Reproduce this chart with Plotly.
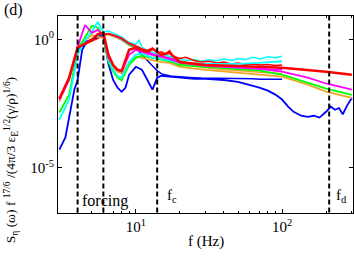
import math
import plotly.graph_objects as go

# ---------------- data ----------------
# smooth / full-range spectra (3-300 Hz)
freq_B = [3, 3.5, 4, 4.5, 5, 5.5, 6, 6.5, 7, 7.5, 8, 9, 10, 11, 12, 13, 14, 15, 17, 20, 30, 50, 70, 100, 150, 200, 300]
red_B = [4.8e-3, 0.032, 0.47, 0.66, 0.95, 1.6, 1.8, 0.25, 0.10, 0.065, 0.059, 0.39, 0.47, 0.39, 0.32, 0.43, 0.32, 0.25, 0.30, 0.13, 0.10, 0.093, 0.085, 0.078, 0.065, 0.055, 0.042]
magenta_B = [4.5e-3, 0.026, 0.51, 3.63, 1.78, 2.34, 1.38, 0.19, 0.10, 0.065, 0.055, 0.25, 0.39, 0.32, 0.28, 0.25, 0.23, 0.21, 0.17, 0.123, 0.093, 0.08, 0.07, 0.055, 0.032, 0.019, 0.011]
green_B = [1.4e-3, 6.9e-3, 0.39, 1.15, 3.39, 2.82, 1.26, 0.13, 0.055, 0.032, 0.025, 0.10, 0.19, 0.23, 0.21, 0.19, 0.17, 0.16, 0.14, 0.10, 0.085, 0.072, 0.06, 0.042, 0.020, 0.012, 0.0069]
orange_B = [3.7e-3, 0.032, 0.56, 0.95, 1.48, 1.26, 1.15, 0.16, 0.078, 0.055, 0.046, 0.13, 0.21, 0.19, 0.17, 0.16, 0.145, 0.13, 0.12, 0.085, 0.065, 0.05, 0.042, 0.035, 0.017, 0.0091, 0.0052]
freq_cyan_B = freq_B[:24]
cyan_B = [7.4e-4, 4.5e-3, 0.25, 0.95, 1.95, 4.79, 1.78, 0.16, 0.065, 0.038, 0.032, 0.13, 0.25, 0.28, 0.23, 0.19, 0.19, 0.17, 0.15, 0.123, 0.11, 0.11, 0.12, 0.14]
freq_blue_B = [3, 3.3, 3.6, 3.8, 4, 4.3, 4.6, 5, 5.5, 6, 6.5, 7, 7.5, 8, 8.5, 9, 10, 11, 12, 13, 14, 15, 17, 20, 25, 30, 40, 50, 60, 70, 80, 90, 100, 110, 120, 135, 150, 165, 180, 200, 215, 230, 245, 260, 280, 300]
blue_B = [5.0e-5, 1.5e-4, 2.1e-3, 0.011, 0.026, 0.39, 0.8, 0.95, 1.26, 1.48, 0.11, 0.026, 0.013, 0.009, 0.013, 0.042, 0.085, 0.065, 0.026, 0.011, 0.032, 0.038, 0.035, 0.032, 0.029, 0.029, 0.026, 0.022, 0.017, 0.013, 0.010, 0.007, 0.0045, 0.0024, 0.0015, 0.00105, 0.00095, 0.00105, 0.00089, 0.0015, 0.0024, 0.0018, 0.0021, 0.0012, 0.0028, 0.0052]

# noisy measured spectra (4-100 Hz)
freq_A = [4, 4.5, 5, 5.5, 6, 6.5, 7, 7.5, 8, 9, 10, 10.5, 11, 12, 13, 14, 15, 16, 17, 18, 20, 22, 25, 28, 32, 36, 40, 45, 50, 56, 63, 71, 80, 90, 100]
cyan_A = [0.44, 0.70, 1.0, 1.35, 1.9, 2.1, 1.7, 1.5, 1.25, 0.75, 0.65, 0.95, 0.5, 0.36, 0.30, 0.27, 0.26, 0.24, 0.22, 0.2, 0.17, 0.15, 0.165, 0.14, 0.16, 0.145, 0.17, 0.15, 0.18, 0.16, 0.2, 0.17, 0.21, 0.19, 0.22]
red_A = [0.47, 0.62, 0.85, 1.1, 1.5, 1.7, 1.5, 1.3, 1.1, 0.7, 0.55, 0.5, 0.42, 0.38, 0.45, 0.3, 0.33, 0.26, 0.36, 0.22, 0.18, 0.2, 0.15, 0.13, 0.14, 0.12, 0.13, 0.11, 0.12, 0.105, 0.11, 0.1, 0.105, 0.095, 0.1]
green_A = [0.42, 0.75, 1.05, 1.3, 1.6, 1.7, 1.4, 1.2, 1.0, 0.62, 0.5, 0.45, 0.38, 0.3, 0.26, 0.23, 0.22, 0.2, 0.19, 0.17, 0.14, 0.125, 0.12, 0.11, 0.105, 0.1, 0.095, 0.092, 0.09, 0.088, 0.085, 0.085, 0.082, 0.08, 0.078]
magenta_A = [0.5, 0.8, 1.0, 1.2, 1.55, 1.65, 1.45, 1.25, 1.05, 0.68, 0.52, 0.47, 0.4, 0.32, 0.27, 0.24, 0.22, 0.2, 0.185, 0.17, 0.14, 0.12, 0.11, 0.1, 0.095, 0.09, 0.085, 0.082, 0.08, 0.077, 0.074, 0.072, 0.07, 0.067, 0.065]
orange_A = [0.45, 0.7, 0.9, 1.1, 1.4, 1.5, 1.3, 1.15, 0.95, 0.6, 0.46, 0.42, 0.35, 0.28, 0.24, 0.21, 0.19, 0.17, 0.16, 0.145, 0.12, 0.1, 0.09, 0.08, 0.075, 0.07, 0.066, 0.062, 0.06, 0.057, 0.054, 0.052, 0.05, 0.048, 0.046]
blue_A = [0.4, 0.65, 0.95, 1.25, 1.6, 1.6, 1.4, 1.2, 0.95, 0.6, 0.45, 0.35, 0.25, 0.15, 0.09, 0.06, 0.045, 0.04, 0.038, 0.036, 0.034, 0.033, 0.032, 0.031, 0.031, 0.03, 0.03, 0.03, 0.029, 0.029, 0.029, 0.028, 0.028, 0.028, 0.028]

f_forcing_low = 4
f_forcing_high = 6
f_c = 14
f_d = 210

x_ticks = [10, 100]
x_ticktext = ["10<sup>1</sup>", "10<sup>2</sup>"]
y_ticks = [1e-5, 1]
y_ticktext = ["10<sup>-5</sup>", "10<sup>0</sup>"]
x_minor = [4, 5, 6, 7, 8, 9, 20, 30, 40, 50, 60, 70, 80, 90, 200, 300]

COL = {"blue": "#0000FF", "orange": "#EEA528", "green": "#00FF00",
       "cyan": "#00FFFF", "magenta": "#FF00FF", "red": "#FF0000"}

FONT = "Liberation Serif"

fig = go.Figure()

A_series = [("blue", blue_A), ("orange", orange_A), ("green", green_A),
            ("cyan", cyan_A), ("magenta", magenta_A), ("red", red_A)]
for name, vals in A_series:
    fig.add_trace(go.Scatter(x=freq_A, y=vals, mode="lines",
                             line=dict(color=COL[name], width=1.5),
                             showlegend=False, hoverinfo="skip"))

B_series = [("blue", freq_blue_B, blue_B), ("orange", freq_B, orange_B),
            ("green", freq_B, green_B), ("cyan", freq_cyan_B, cyan_B),
            ("magenta", freq_B, magenta_B), ("red", freq_B, red_B)]
for name, fr, vals in B_series:
    fig.add_trace(go.Scatter(x=fr, y=vals, mode="lines",
                             line=dict(color=COL[name], width=2.5 if name == "red" else 1.8),
                             showlegend=False, hoverinfo="skip"))

# vertical dashed markers
for fv in [f_forcing_low, f_forcing_high, f_c, f_d]:
    fig.add_trace(go.Scatter(x=[fv, fv], y=[1e-8, 100], mode="lines",
                             line=dict(color="black", width=2, dash="5px,3px"),
                             showlegend=False, hoverinfo="skip"))

fig.update_xaxes(type="log", range=[0.468, 2.485],
                 tickvals=x_ticks, ticktext=x_ticktext,
                 ticks="inside", ticklen=4, tickwidth=1, tickcolor="black",
                 minor=dict(ticks="inside", ticklen=2, tickvals=x_minor, tickcolor="black", tickwidth=1),
                 showline=True, linecolor="black", linewidth=1, mirror="allticks",
                 showgrid=False, zeroline=False,
                 tickfont=dict(family=FONT, size=15, color="black"))
fig.update_yaxes(type="log", range=[-6.77, 0.91],
                 tickvals=y_ticks, ticktext=y_ticktext,
                 ticks="inside", ticklen=4, tickwidth=1, tickcolor="black",
                 showline=True, linecolor="black", linewidth=1, mirror="allticks",
                 showgrid=False, zeroline=False,
                 tickfont=dict(family=FONT, size=15, color="black"))

ann_font = dict(family=FONT, size=15, color="black")
fig.update_layout(
    width=354, height=259,
    margin=dict(l=58, r=1, t=16, b=46, pad=0),
    paper_bgcolor="white", plot_bgcolor="white",
    font=dict(family=FONT, color="black"),
    annotations=[
        dict(text="(d)", xref="paper", yref="paper", x=-0.19, y=1.03,
             xanchor="left", yanchor="middle", showarrow=False, font=dict(family=FONT, size=16, color="black")),
        dict(text="forcing", xref="x", yref="paper", x=math.log10(4.15), y=0.06,
             xanchor="left", yanchor="middle", showarrow=False, font=dict(family=FONT, size=16, color="black")),
        dict(text="f<sub>c</sub>", xref="x", yref="paper", x=math.log10(15.8), y=0.085,
             xanchor="left", yanchor="middle", showarrow=False, font=ann_font),
        dict(text="f<sub>d</sub>", xref="x", yref="paper", x=math.log10(228), y=0.085,
             xanchor="left", yanchor="middle", showarrow=False, font=ann_font),
        dict(text="f (Hz)", xref="paper", yref="paper", x=0.5, y=-0.147,
             xanchor="center", yanchor="middle", showarrow=False, font=ann_font),
        dict(text="S<sub>η</sub> (ω) f <sup>17/6</sup> /(4π/3 ε<sub>E</sub><sup>1/2</sup>(γ/ρ)<sup>1/6</sup>)",
             xref="paper", yref="paper", x=-0.158, y=0.27, textangle=-90,
             xanchor="center", yanchor="middle", showarrow=False,
             font=dict(family=FONT, size=13.5, color="black")),
    ],
)

fig.write_html("out.html", config={"displayModeBar": False},
               post_script="document.body.style.margin='0px';document.body.style.overflow='hidden';")
